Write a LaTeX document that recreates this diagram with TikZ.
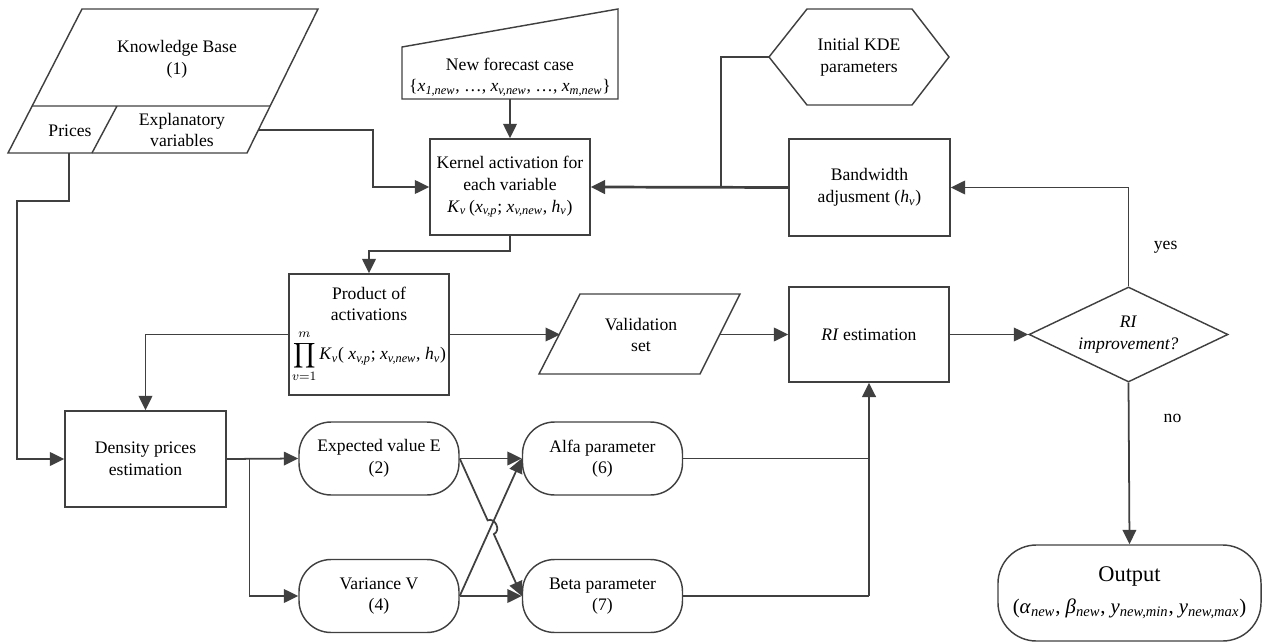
\documentclass[tikz,border=0pt]{standalone}
\usepackage{amsmath}
\usepackage{fontspec}
\setmainfont{Liberation Serif}
\usepackage{tikz}
\usetikzlibrary{arrows.meta,shapes.geometric,calc}
\definecolor{linegray}{HTML}{404040}
\newcommand{\sbi}[1]{$_{\textit{#1}}$}

\begin{document}
\begin{tikzpicture}[
  x=0.625pt, y=-0.625pt,
  font=\fontsize{11}{13.5}\selectfont,
  shape line/.style={draw=linegray, line width=0.9pt},
  textnode/.style={align=center},
  block/.style={shape line, rectangle, align=center, minimum width=100pt, minimum height=60pt, inner sep=1pt},
  pill/.style={shape line, rectangle, rounded corners=20pt, align=center, minimum width=100pt, minimum height=45.6pt, inner sep=1pt},
  link/.style={draw=linegray, line width=1.1pt},
  arrow/.style={link, -{Triangle[length=9pt, width=8.5pt]}},
  thick arrow/.style={arrow, line width=1.7pt}
]
\useasboundingbox (0,0) rectangle (1264,642);

\draw[shape line] (82,9) -- (318,9) -- (247,153) -- (8,153) -- cycle;
\draw[shape line] (32,106) -- (270,106) (117,106) -- (92,153);
\node[textnode] (kb) at (177,59) {Knowledge Base\\(1)};
\node (prices) at (70,131) {Prices};
\node[textnode] (expl) at (182,130) {Explanatory\\variables};
\coordinate (explout) at (259,130);
\coordinate (pricesout) at (69,153);

\draw[shape line] (402,47) -- (618,9) -- (618,99) -- (402,99) -- cycle;
\node[textnode] (newcase) at (510,77) {New forecast case\\\{\textit{x}\sbi{1,new}, \ldots, \textit{x}\sbi{v,new}, \ldots, \textit{x}\sbi{m,new}\}};
\coordinate (newout) at (510,99);

\draw[shape line] (769,57) -- (807,9) -- (912,9) -- (949,57) -- (912,105) -- (807,105) -- cycle;
\node[textnode] (kde) at (859,57) {Initial KDE\\parameters};
\coordinate (kdeout) at (769,57);

\draw[shape line] (580,294) -- (740,294) -- (700,374) -- (539,374) -- cycle;
\node[textnode] (valset) at (641,335) {Validation\\set};
\coordinate (valin) at (560,334.5);
\coordinate (valout) at (720,334.5);

\node[block] (kernel) at (510,187) {Kernel activation for\\each variable\\\textit{K}\sbi{v}\,(\textit{x}\sbi{v,p}; \textit{x}\sbi{v,new}, \textit{h}\sbi{v})};
\node[block, minimum width=100.6pt, minimum height=60.6pt] (bandw) at (869.5,187.5) {Bandwidth\\adjusment (\textit{h}\sbi{v})};
\node[block, minimum height=75.6pt] (product) at (369,334.5) {Product of\\activations\\[5pt]$\displaystyle\prod_{v=1}^{m}\,$\textit{K}\sbi{v}( \textit{x}\sbi{v,p}; \textit{x}\sbi{v,new}, \textit{h}\sbi{v})};
\node[block, minimum height=59.4pt] (ri) at (869,334.5) {\textit{RI} estimation};
\node[block, minimum width=100.6pt] (density) at (145.5,459) {Density prices\\estimation};
\node[pill] (ev) at (379,458.5) {Expected value E\\(2)};
\node[pill] (var) at (379,596) {Variance V\\(4)};
\node[pill] (alfa) at (602.5,458.5) {Alfa parameter\\(6)};
\node[pill] (beta) at (602.5,596) {Beta parameter\\(7)};
\node[shape line, diamond, aspect=2.1, minimum width=124.4pt, minimum height=59.4pt, inner sep=0pt, align=center] (dec) at (1128.5,334.5) {\textit{RI}\\\textit{improvement?}};
\node[shape line, rectangle, rounded corners=24pt, minimum width=164.4pt, minimum height=60pt, inner sep=0pt, align=center, font=\fontsize{13}{20}\selectfont] (output) at (1129.5,593) {{\fontsize{14}{20}\selectfont Output}\\(\textit{α}\sbi{new}, \textit{β}\sbi{new}, \textit{y}\sbi{new,min}, \textit{y}\sbi{new,max})};

\draw[arrow] (explout) -- ++(114,0) |- (kernel.west);
\draw[arrow] (pricesout) -- ++(0,48) -- ++(-52,0) |- (density.west);
\draw[arrow] (newout) -- (kernel.north);
\draw[arrow] (kernel.south) -- ++(0,15) -| (product.north);
\draw[thick arrow] (bandw.west) -- (kernel.east);
\draw[link] (kdeout) -| ($(kernel.east)!0.66!(bandw.west)$);
\draw[arrow] (product.east) -- (valin);
\draw[arrow] (valout) -- (ri.west);
\draw[arrow] (ri.east) -- (dec.west);
\draw[arrow] (dec.north) |- node[pos=0.2, right=12pt]{yes} (bandw.east);
\draw[arrow] (dec.south) -- node[pos=0.22, right=18pt]{no} (output.north);
\draw[arrow] (product.west) -| (density.north);
\draw[arrow] (density.east) -- (ev.west);
\coordinate (split) at ($(density.east)!0.32!(ev.west)$);
\draw[arrow] (split) |- (var.west);
\draw[arrow] (ev.east) -- (alfa.west);
\draw[arrow] (var.east) -- (beta.west);
\draw[arrow] (var.east) -- (alfa.west);
\draw[arrow] (ev.east) -- ($(ev.east)!0.45!(beta.west)$) to[bend left=90, looseness=1.4] ($(ev.east)!0.55!(beta.west)$) -- (beta.west);
\draw[link] (alfa.east) -- (alfa.east -| ri.south);
\draw[link] (beta.east) -- (beta.east -| ri.south) coordinate (ribase);
\draw[thick arrow] (ribase) -- (ri.south);
\end{tikzpicture}
\end{document}
